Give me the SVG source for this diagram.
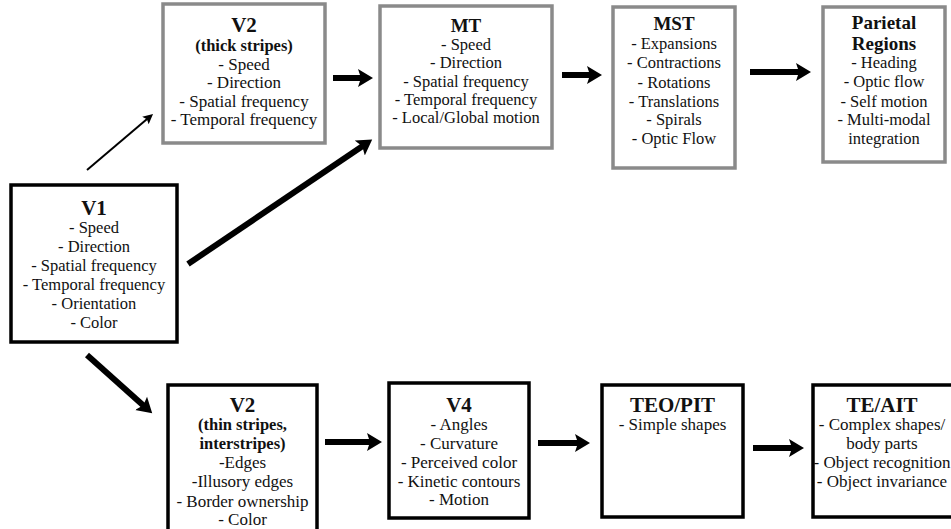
<svg xmlns="http://www.w3.org/2000/svg" width="951" height="529" viewBox="0 0 951 529">
<style>
text{font-family:"Liberation Serif","Times New Roman",serif;fill:#111;text-anchor:middle}
.t{font-size:21px;font-weight:bold}
.tm{font-size:19px;font-weight:bold}
.s{font-size:16.5px;font-weight:bold}
.b{font-size:16.5px}
.bl{font-size:17px}
.g rect{fill:#fff;stroke:#8a8a8a;stroke-width:3.5}
.k rect{fill:#fff;stroke:#000;stroke-width:3.5}
.a{stroke:#000;stroke-width:6;fill:none}
.a2{stroke:#000;stroke-width:2;fill:none}
</style>
<defs>
<marker id="h" markerUnits="userSpaceOnUse" viewBox="0 -10 16 20" markerWidth="16" markerHeight="20" refX="8" refY="0" orient="auto">
<path d="M0,-9 L15,0 L0,9 L3,0 Z" fill="#000"/>
</marker>
<marker id="h2" markerUnits="userSpaceOnUse" viewBox="0 -6 11 12" markerWidth="11" markerHeight="12" refX="6" refY="0" orient="auto">
<path d="M0,-5 L10,0 L0,5 L2,0 Z" fill="#000"/>
</marker>
</defs>
<rect width="951" height="529" fill="#fff"/>
<g id="connectors">
<line class="a2" x1="87" y1="170" x2="150" y2="116.6" marker-end="url(#h2)"/>
<line class="a" x1="188" y1="264" x2="366.4" y2="143.5" marker-end="url(#h)"/>
<line class="a" x1="333" y1="78" x2="366" y2="78" marker-end="url(#h)"/>
<line class="a" x1="562" y1="75" x2="595" y2="75" marker-end="url(#h)"/>
<line class="a" x1="750" y1="72" x2="804" y2="72" marker-end="url(#h)"/>
<line class="a" x1="87" y1="355" x2="147" y2="408.7" marker-end="url(#h)"/>
<line class="a" x1="325" y1="442" x2="375" y2="442" marker-end="url(#h)"/>
<line class="a" x1="538" y1="443" x2="583" y2="443" marker-end="url(#h)"/>
<line class="a" x1="753" y1="448" x2="797" y2="448" marker-end="url(#h)"/>
</g>
<g id="v2-thick" class="g">
<rect x="163" y="4" width="162" height="139"/>
<text class="t" x="244" y="32">V2</text>
<text class="s" x="244" y="51">(thick stripes)</text>
<text class="bl" x="244" y="70">- Speed</text>
<text class="bl" x="244" y="88">- Direction</text>
<text class="bl" x="244" y="107">- Spatial frequency</text>
<text class="bl" x="244" y="125">- Temporal frequency</text>
</g>
<g id="mt" class="g">
<rect x="380" y="6" width="172" height="142"/>
<text class="tm" x="466" y="32">MT</text>
<text class="b" x="466" y="50">- Speed</text>
<text class="b" x="466" y="68">- Direction</text>
<text class="b" x="466" y="87">- Spatial frequency</text>
<text class="b" x="466" y="105">- Temporal frequency</text>
<text class="b" x="466" y="123">- Local/Global motion</text>
</g>
<g id="mst" class="g">
<rect x="613" y="7" width="122" height="161"/>
<text class="tm" x="674" y="30">MST</text>
<text class="b" x="674" y="49">- Expansions</text>
<text class="b" x="674" y="68">- Contractions</text>
<text class="b" x="674" y="88">- Rotations</text>
<text class="b" x="674" y="107">- Translations</text>
<text class="b" x="674" y="125">- Spirals</text>
<text class="b" x="674" y="144">- Optic Flow</text>
</g>
<g id="parietal" class="g">
<rect x="823" y="7" width="122" height="155"/>
<text class="tm" x="884" y="29">Parietal</text>
<text class="tm" x="884" y="50">Regions</text>
<text class="b" x="884" y="68">- Heading</text>
<text class="b" x="884" y="87">- Optic flow</text>
<text class="b" x="884" y="107">- Self motion</text>
<text class="b" x="884" y="125">- Multi-modal</text>
<text class="b" x="884" y="144">integration</text>
</g>
<g id="v1" class="k">
<rect x="11" y="185" width="166" height="157"/>
<text class="t" x="94" y="215">V1</text>
<text class="b" x="94" y="233">- Speed</text>
<text class="b" x="94" y="252">- Direction</text>
<text class="b" x="94" y="271">- Spatial frequency</text>
<text class="b" x="94" y="290">- Temporal frequency</text>
<text class="b" x="94" y="309">- Orientation</text>
<text class="b" x="94" y="328">- Color</text>
</g>
<g id="v2-thin" class="k">
<rect x="168" y="385" width="149" height="160"/>
<text class="t" x="242.5" y="412">V2</text>
<text class="s" x="242.5" y="430">(thin stripes,</text>
<text class="s" x="242.5" y="449">interstripes)</text>
<text class="bl" x="242.5" y="468">-Edges</text>
<text class="bl" x="242.5" y="487">-Illusory edges</text>
<text class="bl" x="242.5" y="507">- Border ownership</text>
<text class="bl" x="242.5" y="525">- Color</text>
</g>
<g id="v4" class="k">
<rect x="389" y="383" width="140" height="135"/>
<text class="t" x="459" y="412">V4</text>
<text class="bl" x="459" y="430">- Angles</text>
<text class="bl" x="459" y="449">- Curvature</text>
<text class="bl" x="459" y="468">- Perceived color</text>
<text class="bl" x="459" y="487">- Kinetic contours</text>
<text class="bl" x="459" y="505">- Motion</text>
</g>
<g id="teo-pit" class="k">
<rect x="602" y="385" width="141" height="132"/>
<text class="t" x="672.5" y="412">TEO/PIT</text>
<text class="bl" x="672.5" y="430">- Simple shapes</text>
</g>
<g id="te-ait" class="k">
<rect x="813" y="385" width="150" height="132"/>
<text class="t" x="882" y="412">TE/AIT</text>
<text class="bl" x="882" y="430">- Complex shapes/</text>
<text class="bl" x="882" y="449">body parts</text>
<text class="bl" x="882" y="468">- Object recognition</text>
<text class="bl" x="882" y="487">- Object invariance</text>
</g>
</svg>
